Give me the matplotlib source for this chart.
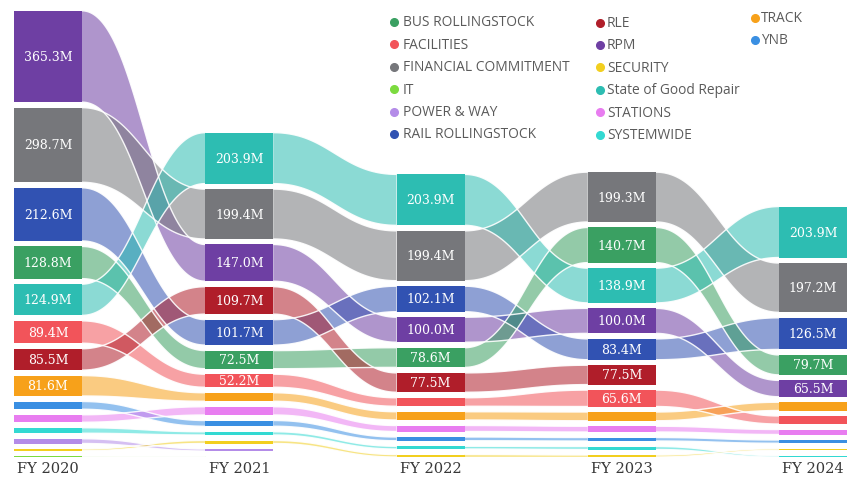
import matplotlib
matplotlib.use("Agg")
import matplotlib.pyplot as plt
import numpy as np
from matplotlib.patches import Polygon, Rectangle

nan = np.nan
years = ["FY 2020", "FY 2021", "FY 2022", "FY 2023", "FY 2024"]

# values in millions per fiscal year (NaN = not present)
bus_rollingstock = [128.8, 72.5, 78.6, 140.7, 79.7]
facilities = [89.4, 52.2, 34.0, 65.6, 32.0]
financial_commitment = [298.7, 199.4, 199.4, 199.3, 197.2]
it = [3.0, 2.0, nan, nan, nan]
power_and_way = [19.0, 8.0, nan, nan, nan]
rail_rollingstock = [212.6, 101.7, 102.1, 83.4, 126.5]
rle = [85.5, 109.7, 77.5, 77.5, nan]
rpm = [365.3, 147.0, 100.0, 100.0, 65.5]
security = [7.0, 12.0, 10.0, 8.0, 6.0]
state_of_good_repair = [124.9, 203.9, 203.9, 138.9, 203.9]
stations = [30.0, 33.0, 24.0, 23.0, 20.0]
systemwide = [22.0, 13.0, 11.0, 12.0, 5.0]
track = [81.6, 34.0, 33.0, 35.0, 33.0]
ynb = [31.0, 23.0, 15.0, 14.0, 13.0]

names = ["BUS ROLLINGSTOCK", "FACILITIES", "FINANCIAL COMMITMENT", "IT",
         "POWER & WAY", "RAIL ROLLINGSTOCK", "RLE", "RPM", "SECURITY",
         "State of Good Repair", "STATIONS", "SYSTEMWIDE", "TRACK", "YNB"]
values = [bus_rollingstock, facilities, financial_commitment, it,
          power_and_way, rail_rollingstock, rle, rpm, security,
          state_of_good_repair, stations, systemwide, track, ynb]
colors = ["#3AA062", "#F2545A", "#76777B", "#7CDB3F",
          "#B48CE8", "#3152B2", "#B01E2A", "#6E3FA3", "#F2CF1F",
          "#2DBDB2", "#E87DF0", "#33D9D2", "#F7A11A", "#3A8FE2"]

W, H = 847, 485
fig = plt.figure(figsize=(W / 100, H / 100), dpi=100)
bottom_px = 458
ax = fig.add_axes([0, (H - bottom_px) / H, 1, bottom_px / H])
px_per_col = 191.25
ax.set_xlim(-48 / px_per_col, (W - 48) / px_per_col)
scale = 0.25  # px per million
ax.set_ylim(0, bottom_px / scale)
hw = 34 / px_per_col
gap = 22.0

n_years = len(years)
n_series = len(names)
vals = np.array(values, dtype=float)

# stacking: largest on top
bottoms = np.full_like(vals, nan)
for j in range(n_years):
    present = [i for i in range(n_series) if not np.isnan(vals[i, j])]
    present.sort(key=lambda i: vals[i, j])
    y = 0.0
    for i in present:
        bottoms[i, j] = y
        y += vals[i, j] + gap
tops = bottoms + vals


def bez(x0, x1, y0, y1, n=80):
    t = np.linspace(0, 1, n)
    c0 = x0 + 0.45 * (x1 - x0)
    c1 = x0 + 0.55 * (x1 - x0)
    x = x0 * (1 - t) ** 3 + 3 * c0 * (1 - t) ** 2 * t + 3 * c1 * (1 - t) * t ** 2 + x1 * t ** 3
    y = y0 * ((1 - t) ** 3 + 3 * (1 - t) ** 2 * t) + y1 * (3 * (1 - t) * t ** 2 + t ** 3)
    return x, y

# draw order: by FY2020 rank from top
order = sorted(range(n_series), key=lambda i: -np.nan_to_num(vals[i, 0]))
for i in order:
    for j in range(n_years - 1):
        if np.isnan(vals[i, j]) or np.isnan(vals[i, j + 1]):
            continue
        x0, x1 = j + hw, j + 1 - hw
        xt, yt = bez(x0, x1, tops[i, j], tops[i, j + 1])
        xb, yb = bez(x0, x1, bottoms[i, j], bottoms[i, j + 1])
        poly = np.column_stack([np.concatenate([xt, xb[::-1]]),
                                np.concatenate([yt, yb[::-1]])])
        ax.add_patch(Polygon(poly, closed=True, facecolor=colors[i],
                             alpha=0.55, edgecolor="none", zorder=2))
        ax.plot(xt, yt, color="white", lw=1.0, alpha=0.9, zorder=2.5,
                solid_capstyle="butt")
        ax.plot(xb, yb, color="white", lw=1.0, alpha=0.9, zorder=2.5,
                solid_capstyle="butt")

for i in range(n_series):
    for j in range(n_years):
        v = vals[i, j]
        if np.isnan(v):
            continue
        ax.add_patch(Rectangle((j - hw, bottoms[i, j]), 2 * hw, v,
                               facecolor=colors[i], edgecolor="none", zorder=3))
        if v >= 50:
            ax.text(j, bottoms[i, j] + v / 2, f"{v:.1f}M", ha="center",
                    va="center", color="white", fontsize=9,
                    family="DejaVu Serif", zorder=4)

ax.set_xticks(range(n_years))
ax.set_xticklabels(years, family="DejaVu Serif", fontsize=10.5, color="#383838")
ax.tick_params(axis="x", length=0, pad=3)
ax.set_yticks([])
for s in ax.spines.values():
    s.set_visible(False)
ax.patch.set_alpha(0)

# legend (three columns, Power BI style)
leg_cols = [(394, 403, 23.0), (600, 607, 23.5), (755, 761, 19.0)]
rows_per_col = [6, 6, 2]
row_step = 22.4
k = 0
for c, nrows in enumerate(rows_per_col):
    dx, tx, y0 = leg_cols[c]
    for r in range(nrows):
        yy = y0 + r * (row_step if c < 2 else 22.0)
        fig.lines.append(plt.Line2D([dx / W], [1 - yy / H], marker="o",
                                    markersize=5.5, color=colors[k],
                                    transform=fig.transFigure, linestyle="none"))
        fig.text(tx / W, 1 - yy / H, names[k], ha="left", va="center",
                 fontsize=9.9, family="Open Sans", color="#5A5A5A")
        k += 1

fig.savefig("out.png", dpi=100, facecolor="white")
